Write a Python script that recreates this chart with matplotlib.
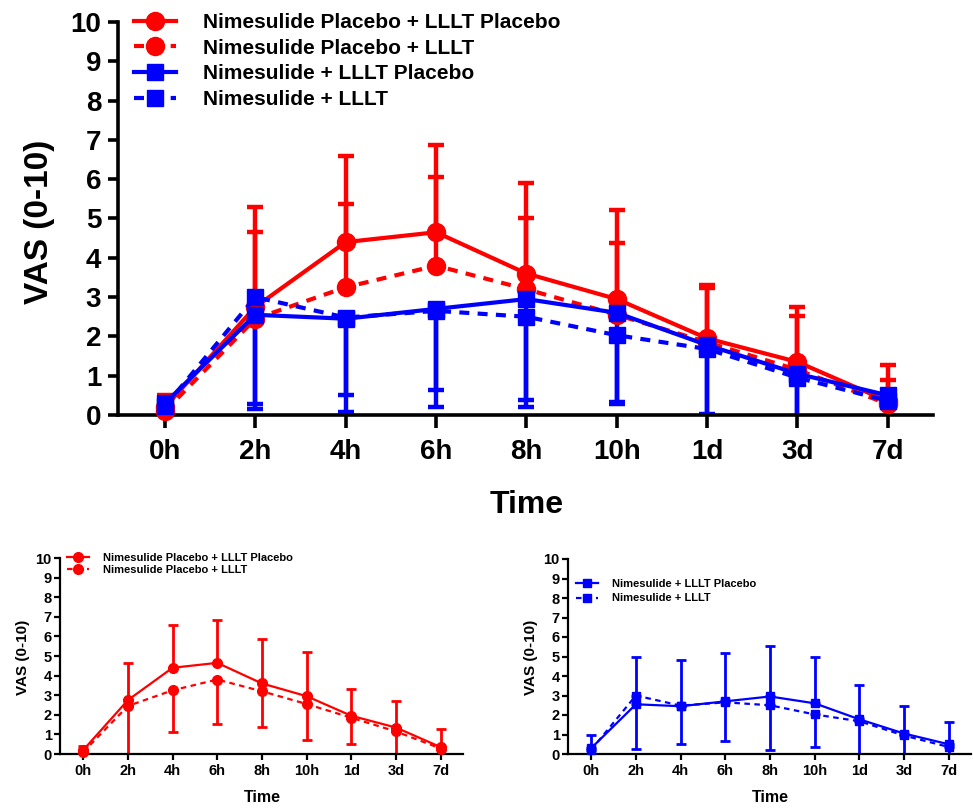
import matplotlib
matplotlib.use("Agg")
import matplotlib.pyplot as plt
import numpy as np

plt.rcParams['font.family'] = ['Liberation Sans', 'DejaVu Sans']
plt.rcParams['font.weight'] = 'bold'

# ---------------- data ----------------
time_labels = ["0h", "2h", "4h", "6h", "8h", "10h", "1d", "3d", "7d"]

label_rs = "Nimesulide Placebo + LLLT Placebo"
label_rd = "Nimesulide Placebo + LLLT"
label_bs = "Nimesulide + LLLT Placebo"
label_bd = "Nimesulide + LLLT"

red_solid_mean = [0.2, 2.75, 4.4, 4.65, 3.6, 2.95, 1.95, 1.35, 0.35]
red_solid_sd = [0.3, 2.55, 2.2, 2.22, 2.3, 2.27, 1.35, 1.39, 0.92]
red_dash_mean = [0.1, 2.45, 3.25, 3.8, 3.2, 2.55, 1.85, 1.15, 0.28]
red_dash_sd = [0.3, 2.2, 2.12, 2.26, 1.82, 1.82, 1.37, 1.37, 0.61]
blue_solid_mean = [0.3, 2.55, 2.45, 2.7, 2.95, 2.6, 1.78, 1.05, 0.5]
blue_solid_sd = [0.65, 2.4, 2.37, 2.49, 2.57, 2.33, 1.76, 1.39, 1.14]
blue_dash_mean = [0.22, 3.0, 2.48, 2.65, 2.5, 2.03, 1.68, 0.95, 0.36]
blue_dash_sd = [0.55, 2.72, 1.96, 2.02, 2.3, 1.7, 1.7, 1.3, 0.9]

# error-bar ends as drawn in the two small panels
sub_red_upper = [0.39, 4.64, 6.56, 6.85, 5.88, 5.18, 3.33, 2.69, 1.27]
sub_red_lower = [-0.2, -0.2, 1.12, 1.55, 1.38, 0.73, 0.53, -0.2, -0.33]
sub_blue_upper = [0.95, 4.97, 4.83, 5.18, 5.52, 4.95, 3.52, 2.44, 1.64]
sub_blue_lower = [-0.35, 0.27, 0.53, 0.65, 0.18, 0.36, -0.1, -0.35, -0.5]

RED = "#ff0000"
BLUE = "#0000ff"

W, H = 973, 808
fig = plt.figure(figsize=(W / 100, H / 100), dpi=100)


def rect(l, t, r, b):
    return [l / W, 1 - b / H, (r - l) / W, (b - t) / H]


x = np.arange(len(time_labels))


def series(ax, mean, lo, hi, color, marker, ls, ms, lw, elw, cap, label):
    mean = np.asarray(mean)
    dl, = ax.plot(x, mean, color=color, marker=marker, ms=ms, lw=lw, ls=ls,
                  label=label, zorder=3)
    dl.set_clip_on(False)
    ax.errorbar(x, mean, yerr=[np.asarray(lo), np.asarray(hi)], fmt='none',
                ecolor=color, elinewidth=elw, capsize=cap, capthick=elw,
                zorder=2.5)
    return dl


def style_axes(ax, spine_w, tick_len_x, tick_len_y, lsize, padx, pady):
    for s in ['top', 'right']:
        ax.spines[s].set_visible(False)
    for s in ['left', 'bottom']:
        ax.spines[s].set_linewidth(spine_w)
    ax.set_xlim(-0.52, 8.5)
    ax.set_ylim(0, 10)
    ax.set_yticks(range(0, 11))
    ax.set_xticks(x)
    ax.set_xticklabels(time_labels)
    ax.tick_params(axis='x', length=tick_len_x, width=spine_w, labelsize=lsize,
                   pad=padx)
    ax.tick_params(axis='y', length=tick_len_y, width=spine_w, labelsize=lsize,
                   pad=pady)
    for t in ax.get_xticklabels() + ax.get_yticklabels():
        t.set_fontweight('bold')


# ---------------- main chart ----------------
ax = fig.add_axes(rect(118, 22, 933, 415))
z = np.zeros(len(x))
dash_main = (0, (2.4, 2.0))
h1 = series(ax, red_solid_mean, z, red_solid_sd, RED, 'o', '-', 13, 3, 3.2, 5.5, label_rs)
h2 = series(ax, red_dash_mean, z, red_dash_sd, RED, 'o', dash_main, 13, 3, 3.2, 5.5, label_rd)
h3 = series(ax, blue_solid_mean, blue_solid_sd, z, BLUE, 's', '-', 11, 3, 3.2, 5.5, label_bs)
h4 = series(ax, blue_dash_mean, blue_dash_sd, z, BLUE, 's', dash_main, 11, 3, 3.2, 5.5, label_bd)
style_axes(ax, 2.6, 9, 7, 20, 8, 5)
ax.legend(handles=[h1, h2, h3, h4], loc='upper left',
          bbox_to_anchor=(134 / W, 1 - 13 / H), bbox_transform=fig.transFigure,
          frameon=False, borderpad=0, borderaxespad=0, handlelength=2.0,
          handletextpad=1.3, labelspacing=0.32,
          prop={'size': 15, 'weight': 'bold'})
fig.text(40 / W, 1 - 222 / H, "VAS (0-10)", rotation=90, ha='center', va='center',
         fontsize=24, fontweight='bold')
fig.text(527 / W, 1 - 505 / H, "Time", ha='center', va='center', fontsize=23,
         fontweight='bold')

# ---------------- sub chart red ----------------
dash_sub = (0, (2.5, 2.0))
ax2 = fig.add_axes(rect(60, 558, 463, 754))
rs = np.asarray(red_solid_mean)
rd = np.asarray(red_dash_mean)
g1 = series(ax2, rs, z, np.asarray(sub_red_upper) - rs, RED, 'o', '-', 7, 1.6, 2.0, 3.6, label_rs)
g2 = series(ax2, rd, rd - np.asarray(sub_red_lower), z, RED, 'o', dash_sub, 7, 1.6, 2.0, 3.6, label_rd)
style_axes(ax2, 1.6, 4, 4, 10.5, 3, 2)
ax2.legend(handles=[g1, g2], loc='upper left',
           bbox_to_anchor=(67 / W, 1 - 553 / H), bbox_transform=fig.transFigure,
           frameon=False, borderpad=0, borderaxespad=0, handlelength=2.0,
           handletextpad=1.2, labelspacing=0.15,
           prop={'size': 8, 'weight': 'bold'})
fig.text(23 / W, 1 - 657 / H, "VAS (0-10)", rotation=90, ha='center', va='center',
         fontsize=11, fontweight='bold')
fig.text(262 / W, 1 - 798 / H, "Time", ha='center', va='center', fontsize=11.5,
         fontweight='bold')

# ---------------- sub chart blue ----------------
ax3 = fig.add_axes(rect(568, 559, 971, 754))
bs = np.asarray(blue_solid_mean)
bd = np.asarray(blue_dash_mean)
k1 = series(ax3, bs, z, np.asarray(sub_blue_upper) - bs, BLUE, 's', '-', 6, 1.6, 2.0, 3.6, label_bs)
k2 = series(ax3, bd, bd - np.asarray(sub_blue_lower), z, BLUE, 's', dash_sub, 6, 1.6, 2.0, 3.6, label_bd)
style_axes(ax3, 1.6, 4, 4, 10.5, 3, 2)
ax3.legend(handles=[k1, k2], loc='upper left',
           bbox_to_anchor=(576 / W, 1 - 579 / H), bbox_transform=fig.transFigure,
           frameon=False, borderpad=0, borderaxespad=0, handlelength=2.0,
           handletextpad=1.2, labelspacing=0.4,
           prop={'size': 8, 'weight': 'bold'})
fig.text(531 / W, 1 - 657 / H, "VAS (0-10)", rotation=90, ha='center', va='center',
         fontsize=11, fontweight='bold')
fig.text(770 / W, 1 - 798 / H, "Time", ha='center', va='center', fontsize=11.5,
         fontweight='bold')

fig.savefig("out.png", dpi=100)
